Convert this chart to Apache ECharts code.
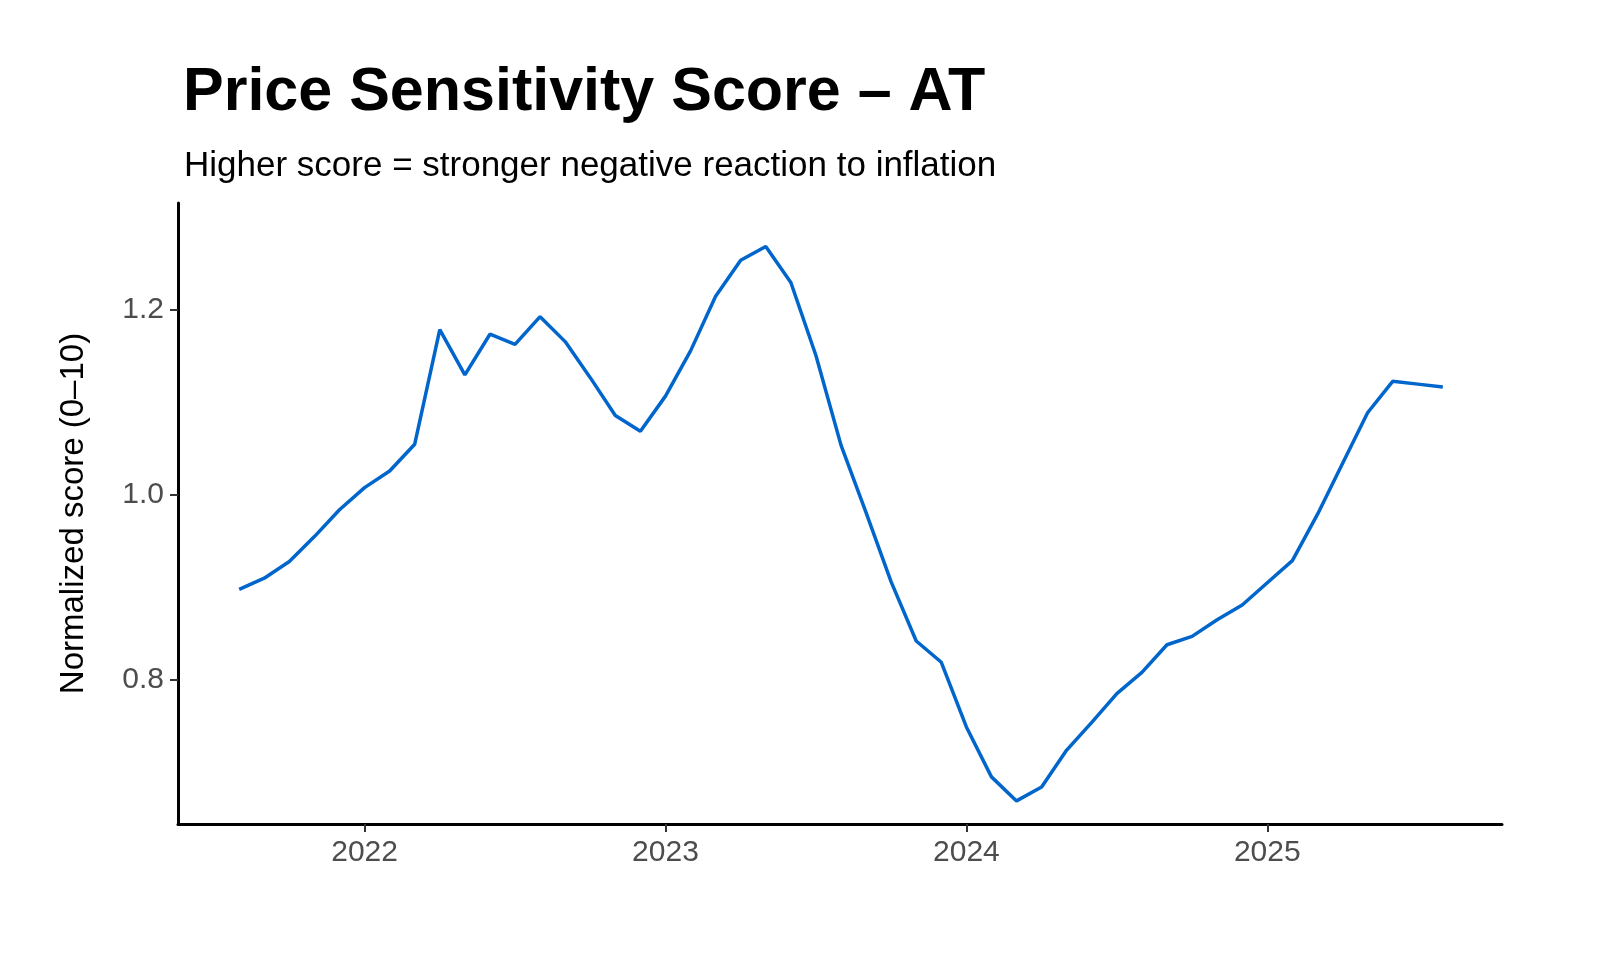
<!DOCTYPE html>
<html>
<head>
<meta charset="utf-8">
<script src="https://cdn.jsdelivr.net/npm/echarts@6/dist/echarts.min.js"></script>
<style>html,body{margin:0;background:#fff}#c{width:1600px;height:960px}</style>
</head>
<body>
<div id="c"></div>
<script>
// monthly, Aug 2021 .. Aug 2025
var months = [];
for (var y = 2021; y <= 2025; y++) {
  for (var m = 1; m <= 12; m++) {
    if ((y == 2021 && m < 8) || (y == 2025 && m > 8)) continue;
    months.push(y + '-' + (m < 10 ? '0' + m : m));
  }
}
var scores = [0.898,0.910,0.928,0.955,0.984,
  1.008,1.026,1.055,1.179,1.130,1.174,1.163,1.193,1.166,1.127,1.086,1.069,
  1.107,1.156,1.215,1.254,1.269,1.230,1.151,1.054,0.981,0.906,0.842,0.819,
  0.749,0.695,0.669,0.684,0.724,0.754,0.785,0.808,0.838,0.847,0.865,0.881,
  0.905,0.929,0.979,1.034,1.089,1.123,1.120,1.117];
var yearTicks = [2022, 2023, 2024, 2025];
var yTicks = [0.8, 1.0, 1.2];

function toYear(s) {
  var p = s.split('-');
  return +p[0] + (+p[1] - 1) / 12;
}
var data = months.map(function (s, i) { return [toYear(s), scores[i]]; });

var chart = echarts.init(document.getElementById('c'));
chart.setOption({
  animation: false,
  title: [
    { text: 'Price Sensitivity Score – AT', left: 178, top: 58,
      textStyle: { fontFamily: 'Liberation Sans', fontSize: 61, fontWeight: 'bold', color: '#000' } },
    { text: 'Higher score = stronger negative reaction to inflation', left: 179, top: 144,
      textStyle: { fontFamily: 'Liberation Sans', fontSize: 35, fontWeight: 'normal', color: '#000' } }
  ],
  grid: { left: 178, right: 98, top: 203, bottom: 136 },
  xAxis: {
    type: 'value', min: 2021.38, max: 2025.78,
    axisLine: { lineStyle: { color: '#000', width: 3 } },
    axisTick: { customValues: yearTicks, length: 8, lineStyle: { color: '#333', width: 2 } },
    axisLabel: { customValues: yearTicks, fontFamily: 'Liberation Sans', fontSize: 30, color: '#4d4d4d', margin: 14,
      formatter: function (v) { return String(Math.round(v)); } },
    splitLine: { show: false }
  },
  yAxis: {
    type: 'value', min: 0.644, max: 1.316,
    name: 'Normalized score (0–10)', nameLocation: 'middle', nameGap: 88,
    nameTextStyle: { fontFamily: 'Liberation Sans', fontSize: 33, color: '#000' },
    axisLine: { show: true, lineStyle: { color: '#000', width: 3 } },
    axisTick: { show: true, customValues: yTicks, length: 8, lineStyle: { color: '#333', width: 2 } },
    axisLabel: { customValues: yTicks, fontFamily: 'Liberation Sans', fontSize: 30, color: '#4d4d4d', margin: 14,
      formatter: function (v) { return v.toFixed(1); } },
    splitLine: { show: false }
  },
  series: [{
    type: 'line', data: data, showSymbol: false,
    lineStyle: { color: '#0066cc', width: 3.5 }
  }]
});
</script>
</body>
</html>
